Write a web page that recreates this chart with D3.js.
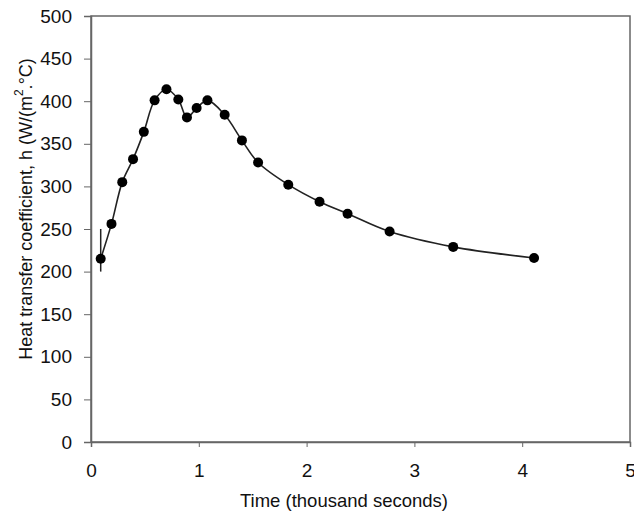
<!DOCTYPE html>
<html><head><meta charset="utf-8">
<script src="https://cdn.jsdelivr.net/npm/d3@7"></script>
<style>
html,body{margin:0;padding:0;background:#fff;}
svg{display:block;font-family:"Liberation Sans",Arial,sans-serif;}
</style></head><body>
<svg id="chart" width="634" height="513"></svg>
<script>
// Data
const timeK = [0.09,0.19,0.29,0.39,0.49,0.59,0.70,0.81,0.89,0.98,1.08,1.24,1.40,1.55,1.83,2.12,2.38,2.77,3.36,4.11];
const hValues = [215,256,305,332,364,401,414,402,381,392,401,384,354,328,302,282,268,247,229,216];
const errBar = {x:0.09, low:200, high:250};
const xTicks = [0,1,2,3,4,5];
const yTicks = [0,50,100,150,200,250,300,350,400,450,500];

const svg = d3.select("#chart");
const L=91, R=630, T=16, B=442;
const x = d3.scaleLinear().domain([0,5]).range([L,R]);
const y = d3.scaleLinear().domain([0,500]).range([B,T]);
const axisCol = "#666";

// frame
svg.append("rect").attr("x",L).attr("y",T).attr("width",R-L).attr("height",B-T)
  .attr("fill","none").attr("stroke",axisCol).attr("stroke-width",1.5);

const gx = svg.append("g").attr("transform",`translate(0,${B})`)
  .call(d3.axisBottom(x).tickValues(xTicks).tickFormat(d3.format("d")).tickSize(5).tickPadding(17));
const gy = svg.append("g").attr("transform",`translate(${L},0)`)
  .call(d3.axisLeft(y).tickValues(yTicks).tickFormat(d3.format("d")).tickSize(7).tickPadding(12));
[gx,gy].forEach(g=>{
  g.select(".domain").attr("stroke",axisCol).attr("stroke-width",1.5);
  g.selectAll(".tick line").attr("stroke",axisCol).attr("stroke-width",1);
  g.selectAll(".tick text").attr("fill","#111").style("font-size","19px").style("font-family","'Liberation Sans',Arial,sans-serif");
});

// axis titles
svg.append("text").attr("x",344).attr("y",507).attr("text-anchor","middle")
  .style("font-size","18.5px").attr("fill","#111").text("Time (thousand seconds)");
const yt = svg.append("text").attr("transform","translate(32,209) rotate(-90)")
  .attr("text-anchor","middle").style("font-size","18px").attr("fill","#111");
yt.append("tspan").text("Heat transfer coefficient, h (W/(m");
yt.append("tspan").attr("dy",-9).style("font-size","12px").text("2");
yt.append("tspan").attr("dy",9).text(".°C)");

// error bar
svg.append("line").attr("x1",x(errBar.x)).attr("x2",x(errBar.x))
  .attr("y1",y(errBar.low)).attr("y2",y(errBar.high)).attr("stroke","#222").attr("stroke-width",1.5);

const pts = timeK.map((t,i)=>[t,hValues[i]]);
const line = d3.line().x(d=>x(d[0])).y(d=>y(d[1])).curve(d3.curveCatmullRom.alpha(0.5));
svg.append("path").datum(pts).attr("d",line).attr("fill","none").attr("stroke","#222").attr("stroke-width",1.6);

svg.selectAll("circle.pt").data(pts).enter().append("circle").attr("class","pt")
  .attr("cx",d=>x(d[0])).attr("cy",d=>y(d[1])).attr("r",5).attr("fill","#000");
</script>
</body></html>
